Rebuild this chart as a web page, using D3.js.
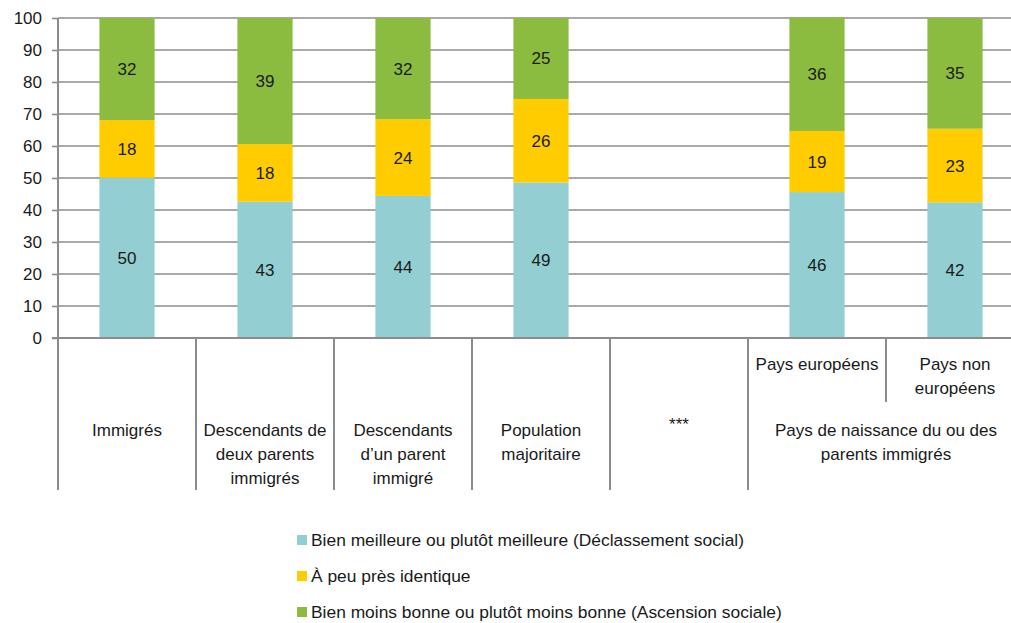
<!DOCTYPE html>
<html><head><meta charset="utf-8">
<script src="https://cdn.jsdelivr.net/npm/d3@7"></script>
<style>
body{margin:0;background:#fff;}
text{font-family:"Liberation Sans Narrow","Arial Narrow","Liberation Sans",sans-serif;fill:#1a1a1a;}
</style></head>
<body><svg id="c" width="1011" height="623"></svg>
<script>
const categories = ["Immigrés","Descendants de deux parents immigrés","Descendants d'un parent immigré","Population majoritaire","***","Pays européens","Pays non européens"];
const seriesNames = ["Bien meilleure ou plutôt meilleure (Déclassement social)","À peu près identique","Bien moins bonne ou plutôt moins bonne (Ascension sociale)"];
const declassement = [50.1, 42.6, 44.4, 48.6, null, 45.6, 42.4];
const identique   = [18.0, 18.0, 24.0, 26.1, null, 19.1, 23.0];
const ascension   = [31.9, 39.4, 31.6, 25.3, null, 35.5, 34.6];
const yTicks = [0,10,20,30,40,50,60,70,80,90,100];
const colors = ["#93cfd2","#ffcc00","#8cbc3f"];
const catLabelLines = [["Immigrés"],["Descendants de","deux parents","immigrés"],["Descendants","d’un parent","immigré"],["Population","majoritaire"],["***"],[],[]];
const subLabelLines = [[],[],[],[],[],["Pays européens"],["Pays non","européens"]];
const groupLabel = ["Pays de naissance du ou des","parents immigrés"];

const svg = d3.select("#c");
const x0 = 58, step = 138;
const x = d3.scaleBand().domain(categories).range([x0, x0 + step*categories.length]).paddingInner(0.6).paddingOuter(0.3);
const y = d3.scaleLinear().domain([0,100]).range([338,18]);
const grid = "#8c8c8c";

// gridlines
svg.append("g").selectAll("line").data(yTicks.filter(d=>d>0)).join("line")
  .attr("x1",x0).attr("x2",1011).attr("y1",d=>y(d)).attr("y2",d=>y(d))
  .attr("stroke",grid).attr("stroke-width",1.6);

// y axis
const ya = svg.append("g").attr("transform",`translate(${x0},0)`)
  .call(d3.axisLeft(y).tickValues(yTicks).tickSize(6).tickPadding(10));
ya.select(".domain").remove();
ya.selectAll(".tick line").attr("stroke",grid).attr("stroke-width",1.6);
ya.selectAll(".tick text").attr("font-size",17).attr("fill","#1a1a1a")
  .style("font-family",'"Liberation Sans Narrow","Arial Narrow",sans-serif');

// stacked bars
const rows = categories.map((c,i)=>({cat:c, v:[declassement[i],identique[i],ascension[i]]}));
rows.forEach(r=>{
  if (r.v[0]==null) return;
  let base = 0;
  r.v.forEach((v,k)=>{
    const g = svg.append("g");
    g.append("rect").attr("x",x(r.cat)).attr("width",x.bandwidth())
      .attr("y",y(base+v)).attr("height",y(base)-y(base+v)).attr("fill",colors[k]);
    g.append("text").attr("x",x(r.cat)+x.bandwidth()/2).attr("y",y(base+v/2)+6)
      .attr("text-anchor","middle").attr("font-size",17).text(Math.round(v));
    base += v;
  });
});

// axes lines
svg.append("line").attr("x1",x0-6).attr("x2",1011).attr("y1",y(0)).attr("y2",y(0)).attr("stroke",grid).attr("stroke-width",2);
svg.append("line").attr("x1",x0).attr("x2",x0).attr("y1",y(100)).attr("y2",490).attr("stroke",grid).attr("stroke-width",2);

// category separators
categories.forEach((c,i)=>{
  if (i===0) return;
  const sx = x0 + step*i;
  const y2 = (i===6) ? 402 : 490;
  svg.append("line").attr("x1",sx).attr("x2",sx).attr("y1",y(0)).attr("y2",y2).attr("stroke",grid).attr("stroke-width",2);
});

// category labels
categories.forEach((c,i)=>{
  const cx = x0 + step*i + step/2;
  const lines = catLabelLines[i];
  const t = svg.append("text").attr("text-anchor","middle").attr("font-size",17);
  const y0 = c==="***" ? 430 : 436;
  lines.forEach((l,j)=>t.append("tspan").attr("x",cx).attr("y",y0+j*24).text(l));
  const sub = subLabelLines[i];
  const t2 = svg.append("text").attr("text-anchor","middle").attr("font-size",17);
  sub.forEach((l,j)=>t2.append("tspan").attr("x",cx).attr("y",370+j*24).text(l));
});
const gcx = x0 + step*6;
const tg = svg.append("text").attr("text-anchor","middle").attr("font-size",17);
groupLabel.forEach((l,j)=>tg.append("tspan").attr("x",gcx).attr("y",436+j*24).text(l));

// legend
const leg = svg.append("g");
seriesNames.forEach((n,k)=>{
  const ly = 541 + k*36;
  leg.append("rect").attr("x",297).attr("y",ly-6).attr("width",10).attr("height",10).attr("fill",colors[k]);
  leg.append("text").attr("x",311).attr("y",ly+5).attr("font-size",17.4).text(n);
});
</script></body></html>
